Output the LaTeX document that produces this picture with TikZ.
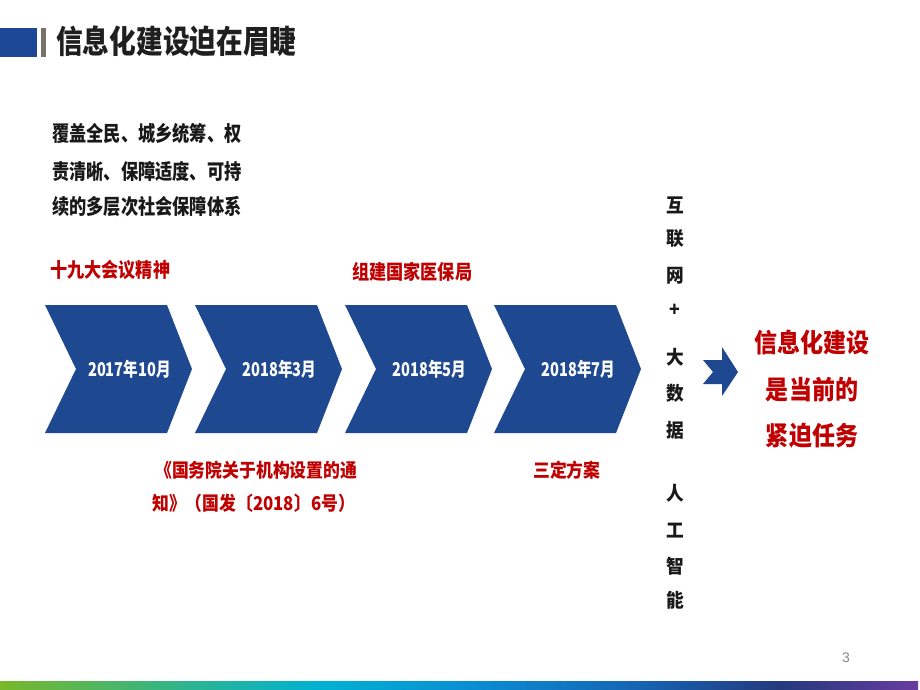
\documentclass[tikz,border=0pt]{standalone}
\usepackage{graphicx}
\usepackage{fontspec}
\setmainfont{Noto Sans CJK SC}
\newfontfamily\numfont{Liberation Sans}
\definecolor{chevblue}{RGB}{30,73,145}
\definecolor{titleblue}{RGB}{28,72,150}
\definecolor{bargrey}{RGB}{118,116,106}
\definecolor{dred}{RGB}{192,0,0}
\definecolor{g1}{RGB}{120,184,42}
\definecolor{g2}{RGB}{40,180,150}
\definecolor{g3}{RGB}{0,178,210}
\definecolor{g4}{RGB}{10,140,210}
\definecolor{g5}{RGB}{22,100,178}
\definecolor{g6}{RGB}{36,58,124}
\definecolor{g7}{RGB}{104,60,160}
\newcommand{\sx}[2]{\scalebox{#1}[1]{#2}}
\tikzset{
  chev/.style={fill=chevblue},
  chevtext/.style={text=white,font=\bfseries\fontsize{19}{19}\selectfont,inner sep=0pt},
  blk/.style={anchor=base west,inner sep=0pt,font=\bfseries\fontsize{21}{21}\selectfont,text=black!90},
  redt/.style={anchor=base west,inner sep=0pt,font=\bfseries\fontsize{20}{20}\selectfont,text=dred},
  redb/.style={anchor=base west,inner sep=0pt,font=\bfseries\fontsize{19}{19}\selectfont,text=dred},
  vchar/.style={anchor=center,inner sep=0pt,font=\bfseries\fontsize{19}{19}\selectfont,text=black!90},
  bigred/.style={anchor=center,inner sep=0pt,font=\bfseries\fontsize{26}{26}\selectfont,text=dred},
}
\begin{document}
\begin{tikzpicture}[x=1pt,y=-1pt]
\useasboundingbox (0,0) rectangle (920,690);
\fill[white] (0,0) rectangle (920,690);
% title
\fill[titleblue] (0,28) rectangle (37,57);
\fill[bargrey] (41,28) rectangle (46,57);
\node[anchor=west,inner sep=0pt,font=\bfseries\fontsize{32}{32}\selectfont,text=black!88] (title) at (56,41) {\sx{0.835}{信息化建设迫在眉睫}};
% paragraph
\node[blk] (p1) at (52,142) {\sx{0.82}{覆盖全民、城乡统筹、权}};
\node[blk] (p2) at (52,179) {\sx{0.82}{责清晰、保障适度、可持}};
\node[blk] (p3) at (52,214) {\sx{0.82}{续的多层次社会保障体系}};
% red labels
\node[redt] (l1) at (50,277) {\sx{0.857}{十九大会议精神}};
\node[redt] (l2) at (352,279.5) {\sx{0.857}{组建国家医保局}};
\node[redb] (l3) at (155,477.5) {\sx{0.886}{《国务院关于机构设置的通}};
\node[redb] (l4) at (152,510.5) {\sx{0.886}{知》（国发〔2018〕6号）}};
\node[redb] (l5) at (533,477) {\sx{0.886}{三定方案}};
% chevrons
\foreach \L/\t/\n in {45/2017年10月/c1,195/2018年3月/c2,345/2018年5月/c3,494/2018年7月/c4}{
  \fill[chev] (\L,305) -- (\L+122,305) -- (\L+147,369) -- (\L+122,433) -- (\L,433) -- (\L+31,369) -- cycle;
  \node[chevtext] (\n) at (\L+84.5,369) {\sx{0.77}{\t}};
}
% vertical text
\foreach \c/\y/\n in {互/205/v1,联/239/v2,网/276/v3,+/310/v4,大/357/v5,数/393/v6,据/430/v7,人/493/v8,工/531/v9,智/566/v10,能/600/v11}{
  \node[vchar] (\n) at (675,\y) {\sx{0.93}{\c}};
}
% arrow
\fill[chevblue] (703,360) -- (722,360) -- (722,347) -- (738,372) -- (722,396) -- (722,384) -- (703,384) -- (713,372) -- cycle;
% conclusion
\node[bigred] (r1) at (812,343) {\sx{0.885}{信息化建设}};
\node[bigred] (r2) at (812,390) {\sx{0.885}{是当前的}};
\node[bigred] (r3) at (812,436) {\sx{0.885}{紧迫任务}};
% page number
\node[inner sep=0pt,font=\numfont\fontsize{14}{14}\selectfont,text=black!45] (pg) at (846,658) {3};
% gradient bar
\shade[left color=g1,right color=g2] (0,681) rectangle (200,690);
\shade[left color=g2,right color=g3] (199.5,681) rectangle (320,690);
\shade[left color=g3,right color=g4] (319.5,681) rectangle (480,690);
\shade[left color=g4,right color=g5] (479.5,681) rectangle (640,690);
\shade[left color=g5,right color=g6] (639.5,681) rectangle (780,690);
\shade[left color=g6,right color=g7] (779.5,681) rectangle (918,690);
\end{tikzpicture}
\end{document}
